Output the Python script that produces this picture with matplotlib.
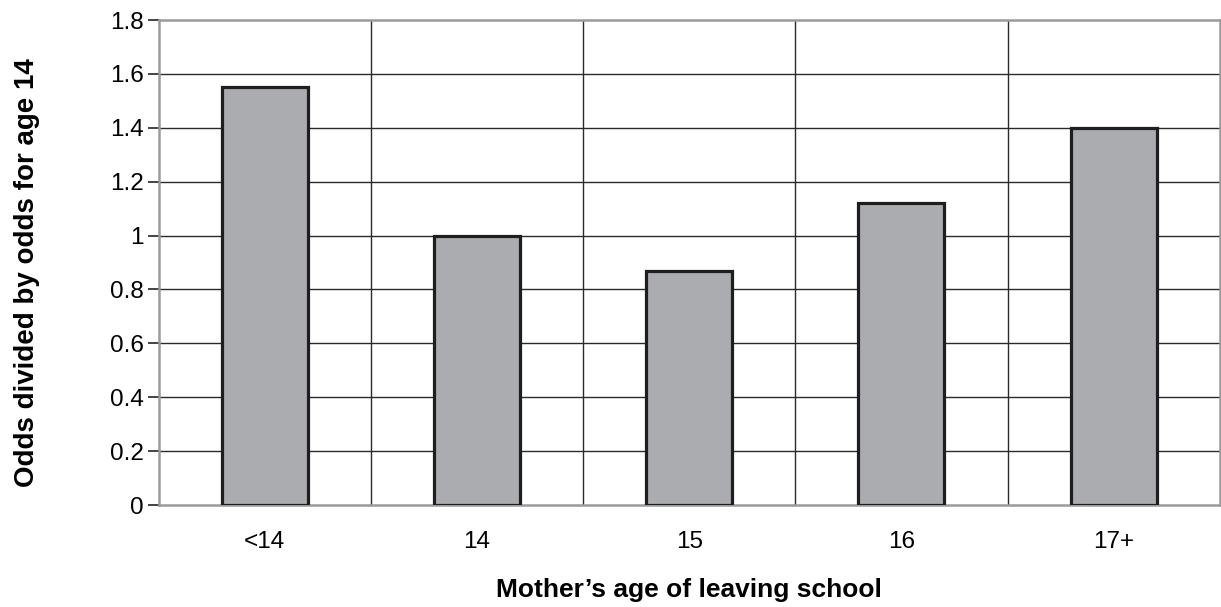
import matplotlib.pyplot as plt
import numpy as np

plt.rcParams['font.family'] = ['Liberation Sans', 'DejaVu Sans']

categories = ['<14', '14', '15', '16', '17+']
odds_ratio = [1.55, 1.0, 0.87, 1.12, 1.40]
yticks = [0, 0.2, 0.4, 0.6, 0.8, 1, 1.2, 1.4, 1.6, 1.8]
ytick_labels = ['0', '0.2', '0.4', '0.6', '0.8', '1', '1.2', '1.4', '1.6', '1.8']

fig = plt.figure(figsize=(12.21, 6.07), dpi=100)
ax = fig.add_axes([0.130, 0.168, 0.869, 0.799])

x = np.arange(len(categories))
ax.set_xlim(-0.5, len(categories) - 0.5)
ax.set_ylim(0, 1.8)

# horizontal grid + vertical separators between categories
for y in yticks[1:-1]:
    ax.axhline(y, color='#2a2a2a', lw=1.0, zorder=1)
for b in np.arange(0.5, len(categories) - 0.5, 1):
    ax.axvline(b, color='#2a2a2a', lw=1.0, zorder=1)

ax.bar(x, odds_ratio, width=0.405, color='#abacb0', edgecolor='#1e1e1e',
       linewidth=2.3, zorder=3)

for s in ['top', 'right', 'bottom', 'left']:
    ax.spines[s].set_color('#9a9a9a')
    ax.spines[s].set_linewidth(1.8)
ax.spines['left'].set_zorder(4)

ax.set_yticks(yticks)
ax.set_yticklabels(ytick_labels, fontsize=17.5)
ax.tick_params(axis='y', direction='out', length=8, width=1.2, color='#222222', pad=3)
ax.set_xticks(x)
ax.set_xticklabels(categories, fontsize=17.5)
ax.tick_params(axis='x', length=0, pad=19)

ax.set_xlabel('Mother\u2019s age of leaving school', fontsize=19, fontweight='bold', labelpad=18)
ax.set_ylabel('Odds divided by odds for age 14', fontsize=20, fontweight='bold')
ax.yaxis.set_label_coords(-0.112, 0.479)

plt.savefig('out.png', dpi=100)
